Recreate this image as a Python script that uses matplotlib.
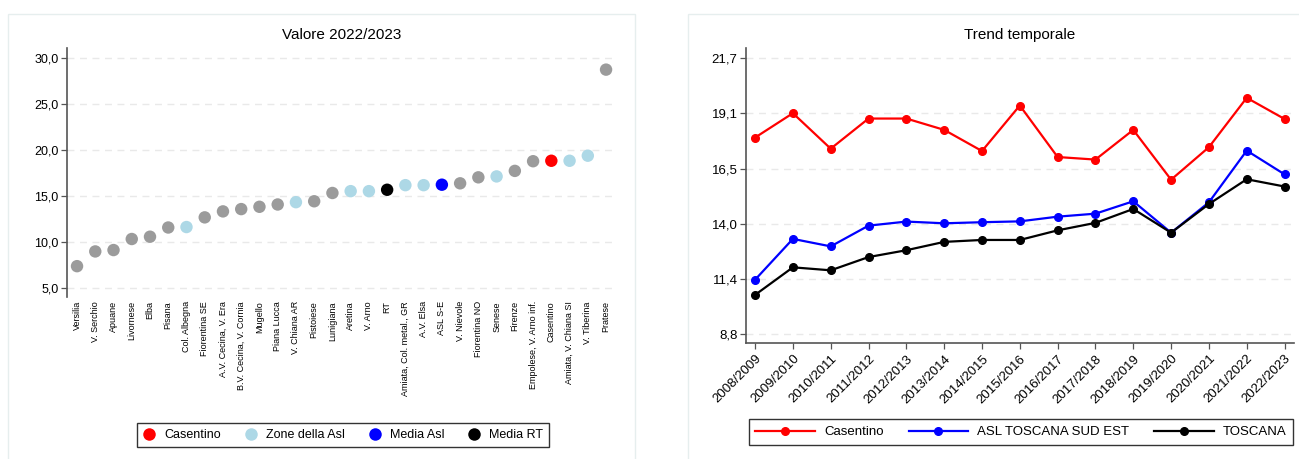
import matplotlib.pyplot as plt
from matplotlib.patches import Rectangle
from matplotlib.lines import Line2D
from matplotlib.ticker import FuncFormatter, FixedLocator
import numpy as np

plt.rcParams['font.family'] = ['Liberation Sans', 'DejaVu Sans']

# --- left chart data: value 2022/2023 by zone ---
zones = ['Versilia', 'V. Serchio', 'Apuane', 'Livornese', 'Elba', 'Pisana',
         'Col. Albegna', 'Fiorentina SE', 'A.V. Cecina, V. Era',
         'B.V. Cecina, V. Cornia', 'Mugello', 'Piana Lucca', 'V. Chiana AR',
         'Pistoiese', 'Lunigiana', 'Aretina', 'V. Arno', 'RT',
         'Amiata, Col. metal., GR', 'A.V. Elsa', 'ASL S-E', 'V. Nievole',
         'Fiorentina NO', 'Senese', 'Firenze', 'Empolese, V. Arno inf.',
         'Casentino', 'Amiata, V. Chiana SI', 'V. Tiberina', 'Pratese']
zone_values = [7.4, 9.0, 9.15, 10.35, 10.6, 11.6, 11.65, 12.7, 13.35, 13.6,
               13.85, 14.1, 14.35, 14.45, 15.35, 15.55, 15.55, 15.7, 16.2,
               16.2, 16.25, 16.4, 17.05, 17.15, 17.75, 18.8, 18.85, 18.85,
               19.4, 28.75]
# group: 'other' = other zones, 'asl' = zones of the Asl, 'case', 'media_asl', 'media_rt'
zone_groups = ['other', 'other', 'other', 'other', 'other', 'other', 'asl',
               'other', 'other', 'other', 'other', 'other', 'asl', 'other',
               'other', 'asl', 'asl', 'media_rt', 'asl', 'asl', 'media_asl',
               'other', 'other', 'asl', 'other', 'other', 'case', 'asl', 'asl',
               'other']

# --- right chart data: trend over time ---
years = ['2008/2009', '2009/2010', '2010/2011', '2011/2012', '2012/2013',
         '2013/2014', '2014/2015', '2015/2016', '2016/2017', '2017/2018',
         '2018/2019', '2019/2020', '2020/2021', '2021/2022', '2022/2023']
casentino = [17.99, 19.13, 17.47, 18.88, 18.88, 18.35, 17.36, 19.49, 17.08,
             16.96, 18.35, 16.02, 17.54, 19.85, 18.86]
asl_sud_est = [11.34, 13.25, 12.9, 13.87, 14.06, 13.98, 14.03, 14.07, 14.29,
               14.43, 15.01, 13.54, 14.96, 17.38, 16.27]
toscana = [10.63, 11.92, 11.78, 12.4, 12.72, 13.11, 13.2, 13.2, 13.65, 14.0,
           14.65, 13.54, 14.88, 16.04, 15.7]

group_colors = {'other': '#9b9b9b', 'asl': '#add8e6', 'case': '#ff0000',
                'media_asl': '#0000ff', 'media_rt': '#000000'}
spine_col = '#555555'
grid_col = '#e9e9e9'


def comma_fmt(v, pos):
    return ('%.1f' % v).replace('.', ',')


def style_axes(ax, size):
    for s in ['top', 'right']:
        ax.spines[s].set_visible(False)
    ax.spines['left'].set_color(spine_col)
    ax.spines['left'].set_linewidth(1.2)
    ax.spines['bottom'].set_color(spine_col)
    ax.spines['bottom'].set_linewidth(1.2)
    ax.tick_params(axis='y', length=4, width=0.9, color=spine_col,
                   labelsize=size, pad=2)
    ax.yaxis.set_major_formatter(FuncFormatter(comma_fmt))
    ax.grid(axis='y', color=grid_col, linestyle=(0, (5, 4)), linewidth=1)
    ax.set_axisbelow(True)


fig = plt.figure(figsize=(12.99, 4.59), dpi=100)

# faint panel boxes
fig.patches.append(Rectangle((8 / 1299, -0.05), 627 / 1299, 1.02,
                             transform=fig.transFigure, fill=False,
                             edgecolor='#e6eeee', linewidth=1))
fig.patches.append(Rectangle((688 / 1299, -0.05), 640 / 1299, 1.02,
                             transform=fig.transFigure, fill=False,
                             edgecolor='#e6eeee', linewidth=1))

# ---------- left: dot chart ----------
ax1 = fig.add_axes([67 / 1299, 162 / 459, 550 / 1299, 249 / 459])
style_axes(ax1, 9)
ax1.spines['bottom'].set_visible(False)
x1 = np.arange(len(zones))
ax1.scatter(x1, zone_values, s=80, c=[group_colors[g] for g in zone_groups],
            linewidths=0, zorder=3)
ax1.set_xlim(-0.55, len(zones) - 1 + 0.6)
ax1.set_ylim(4.05, 31.1)
ax1.yaxis.set_major_locator(FixedLocator([5, 10, 15, 20, 25, 30]))
ax1.set_xticks(x1)
ax1.set_xticklabels(zones, rotation=90, fontsize=6.5)
ax1.tick_params(axis='x', length=0, pad=3)
fig.text(342 / 1299, 1 - 35 / 459, 'Valore 2022/2023', ha='center',
         va='center', fontsize=11)

leg_labels = ['Casentino', 'Zone della Asl', 'Media Asl', 'Media RT']
leg_keys = ['case', 'asl', 'media_asl', 'media_rt']
h1 = [Line2D([], [], linestyle='none', marker='o', markersize=9,
             markerfacecolor=group_colors[k], markeredgewidth=0)
      for k in leg_keys]
lg1 = fig.legend(h1, leg_labels, loc='center',
                 bbox_to_anchor=(343 / 1299, 1 - 435 / 459), ncol=4,
                 fontsize=9, frameon=True, fancybox=False, handlelength=1,
                 handletextpad=0.7, columnspacing=1.9, borderpad=0.45)
lg1.get_frame().set_edgecolor('black')
lg1.get_frame().set_linewidth(1)

# ---------- right: trend lines ----------
ax2 = fig.add_axes([746 / 1299, 116 / 459, 548 / 1299, 295 / 459])
style_axes(ax2, 9.5)
x2 = np.arange(len(years))
ax2.plot(x2, casentino, color='#ff0000', lw=1.6, marker='o', markersize=5.5,
         label='Casentino', zorder=3)
ax2.plot(x2, asl_sud_est, color='#0000ff', lw=1.6, marker='o',
         markersize=5.5, label='ASL TOSCANA SUD EST', zorder=3)
ax2.plot(x2, toscana, color='#000000', lw=1.6, marker='o', markersize=5.5,
         label='TOSCANA', zorder=4)
ax2.set_xlim(-0.24, len(years) - 1 + 0.25)
ax2.set_ylim(8.38, 22.18)
ax2.yaxis.set_major_locator(FixedLocator(np.linspace(8.8, 21.7, 6)))
ax2.set_xticks(x2)
ax2.set_xticklabels(years, rotation=45, ha='right', va='top',
                    rotation_mode='anchor', fontsize=9.5)
ax2.tick_params(axis='x', length=4, width=0.9, color=spine_col, pad=3)
fig.text(1020 / 1299, 1 - 35 / 459, 'Trend temporale', ha='center',
         va='center', fontsize=11)

lg2 = fig.legend(loc='center', bbox_to_anchor=(1021 / 1299, 1 - 432 / 459),
                 ncol=3, fontsize=9.5, frameon=True, fancybox=False,
                 handlelength=4.5, handletextpad=0.7, columnspacing=1.9,
                 borderpad=0.5)
lg2.get_frame().set_edgecolor('black')
lg2.get_frame().set_linewidth(1)

fig.savefig('out.png', dpi=100, facecolor='white')
